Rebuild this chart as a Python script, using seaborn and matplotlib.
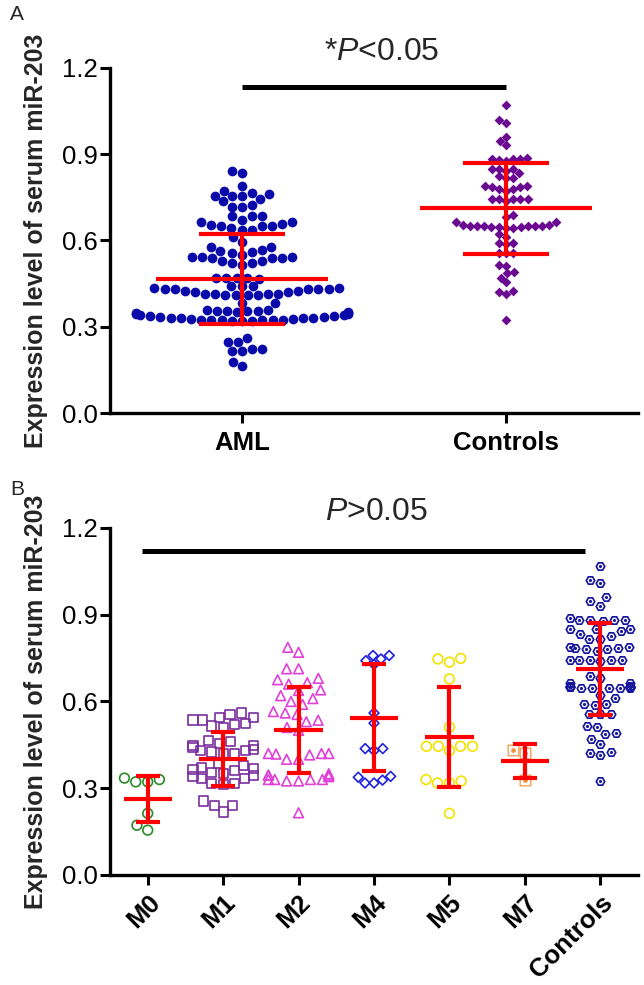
import warnings
import numpy as np
import pandas as pd
import matplotlib
matplotlib.use("Agg")
import matplotlib.pyplot as plt
from matplotlib.path import Path
import seaborn as sns

warnings.filterwarnings("ignore")

# ---- panel A data ----
groups_a = ["AML", "Controls"]
aml = [0.84, 0.835, 0.79,
       0.773, 0.762, 0.754, 0.745, 0.724, 0.718, 0.718, 0.736, 0.753, 0.753, 0.765,
       0.684, 0.684, 0.664, 0.659, 0.649, 0.649, 0.636, 0.636, 0.645, 0.649, 0.655, 0.664, 0.672, 0.684,
       0.612, 0.595, 0.578, 0.578,
       0.563, 0.555, 0.543, 0.540, 0.538, 0.530, 0.521, 0.515, 0.521, 0.530, 0.538, 0.543, 0.543, 0.550, 0.560, 0.567,
       0.47, 0.468, 0.465, 0.47, 0.47,
       0.44, 0.435, 0.43, 0.43, 0.425, 0.42, 0.415, 0.415, 0.41, 0.41, 0.41, 0.41, 0.415, 0.415, 0.42, 0.425,
       0.43, 0.43, 0.435, 0.44, 0.43, 0.44,
       0.383, 0.383, 0.355, 0.355,
       0.358, 0.355, 0.350, 0.347, 0.343, 0.340, 0.337, 0.334, 0.331, 0.329, 0.327, 0.325, 0.323, 0.322, 0.321,
       0.320, 0.321, 0.322, 0.323, 0.325, 0.327, 0.329, 0.331, 0.334, 0.337, 0.340, 0.343, 0.347, 0.350, 0.355, 0.358,
       0.247, 0.224, 0.216, 0.216, 0.224, 0.247, 0.262,
       0.162, 0.176]
controls = [1.07, 1.01, 1.02, 0.946, 0.961, 0.931,
            0.888, 0.883, 0.883, 0.877, 0.88, 0.883, 0.85, 0.85, 0.833, 0.817, 0.817, 0.825, 0.842, 0.85,
            0.79, 0.785, 0.78, 0.773, 0.745, 0.745, 0.745, 0.745, 0.739, 0.745, 0.78, 0.785, 0.79,
            0.687, 0.681,
            0.664, 0.655, 0.649, 0.649, 0.649, 0.647, 0.645, 0.645, 0.647, 0.647, 0.649, 0.649, 0.649, 0.655, 0.664,
            0.622, 0.612,
            0.592, 0.587, 0.590,
            0.555, 0.555, 0.555,
            0.515, 0.511, 0.492, 0.486, 0.471,
            0.454, 0.421, 0.415, 0.425,
            0.325]
mean_a = [0.466, 0.712]
sd_a = [0.156, 0.159]

# ---- panel B data ----
groups_b = ["M0", "M1", "M2", "M4", "M5", "M7", "Controls"]
m0 = [0.33, 0.322, 0.322, 0.335, 0.213, 0.172, 0.155]
m1 = [0.56, 0.556, 0.546, 0.546, 0.536, 0.536, 0.523, 0.52, 0.511, 0.515,
      0.466, 0.462, 0.455, 0.448, 0.448, 0.44, 0.435, 0.431, 0.431, 0.425, 0.42, 0.42,
      0.385, 0.38, 0.372, 0.368, 0.365, 0.36, 0.355, 0.351, 0.345, 0.34, 0.333, 0.333,
      0.316, 0.316, 0.312,
      0.241, 0.218, 0.241, 0.256]
m2 = [0.787, 0.77, 0.713, 0.713, 0.68, 0.675, 0.665, 0.66, 0.64, 0.638, 0.62, 0.61, 0.60, 0.59,
      0.565, 0.56, 0.555, 0.535, 0.53, 0.51, 0.50, 0.42, 0.42, 0.415, 0.42, 0.418, 0.40, 0.40,
      0.35, 0.345, 0.345, 0.34, 0.345, 0.33, 0.33, 0.325, 0.33, 0.325, 0.33, 0.215]
m4 = [0.759, 0.747, 0.728, 0.741, 0.759, 0.56, 0.525, 0.437, 0.43, 0.437,
      0.341, 0.328, 0.318, 0.318, 0.338]
m5 = [0.747, 0.736, 0.749, 0.678, 0.511, 0.445, 0.445, 0.43, 0.445, 0.445,
      0.33, 0.318, 0.318, 0.325, 0.213]
m7 = [0.431, 0.422, 0.328]
values_b = [m0, m1, m2, m4, m5, m7, controls]
mean_b = [0.262, 0.402, 0.500, 0.544, 0.477, 0.394, 0.712]
sd_b = [0.080, 0.093, 0.149, 0.184, 0.174, 0.058, 0.159]


def ring_marker(n, start, r_in=0.66, dot=0.3):
    # outlined polygon with a filled dot in the middle
    ang = np.deg2rad(start + np.arange(n + 1) * 360.0 / n)
    outer = np.column_stack([np.cos(ang), np.sin(ang)])
    inner = outer[::-1] * r_in
    return Path.make_compound_path(Path(outer, closed=True),
                                   Path(inner, closed=True),
                                   Path.circle((0, 0), dot))


hex_dot = ring_marker(6, 0, 0.62, 0.3)
sq_dot = ring_marker(4, 45, 0.80, 0.28)

sns.set_style("ticks")
plt.rcParams["font.family"] = ["Liberation Sans", "DejaVu Sans"]
plt.rcParams["mathtext.fontset"] = "custom"
plt.rcParams["mathtext.rm"] = "Liberation Sans"
plt.rcParams["mathtext.it"] = "Liberation Sans:italic"

fig = plt.figure(figsize=(6.44, 9.85), dpi=100)
ax_a = fig.add_axes([0.1708, 0.5807, 0.8199, 0.3503])
ax_b = fig.add_axes([0.1708, 0.1117, 0.8199, 0.3523])

# ---- panel A ----
df_a = pd.DataFrame({"group": ["AML"] * len(aml) + ["Controls"] * len(controls),
                     "value": aml + controls})
sns.swarmplot(data=df_a[df_a.group == "AML"], x="group", y="value", order=groups_a,
              color="#0A0AAA", size=7.0, linewidth=0, ax=ax_a)
sns.swarmplot(data=df_a[df_a.group == "Controls"], x="group", y="value", order=groups_a,
              color="#6A0A90", marker="D", size=5.0, linewidth=0, ax=ax_a)

xa = np.arange(len(groups_a))
ax_a.errorbar(xa, mean_a, yerr=sd_a, fmt="none", ecolor="#FF0000", elinewidth=3,
              capsize=31, capthick=3, zorder=6)
ax_a.hlines(mean_a, xa - 0.325, xa + 0.325, color="#FF0000", lw=3, zorder=6)
ax_a.plot([0, 1], [1.134, 1.134], color="black", lw=3.6, clip_on=False, solid_capstyle="butt")
ax_a.text(0.53, 1.255, r"*$\mathit{P}$<0.05", fontsize=23, ha="center", va="center", clip_on=False)
ax_a.set_xlim(-0.5, 1.5)

# ---- panel B ----
styles = [
    dict(marker="o", color="#2A8A2A", size=7.0, open=True),
    dict(marker="s", color="#7A2E9E", size=6.6, open=True),
    dict(marker="^", color="#E040D8", size=7.0, open=True),
    dict(marker="D", color="#2222DD", size=5.0, open=True),
    dict(marker="o", color="#F2E200", size=7.0, open=True),
    dict(marker=sq_dot, color="#F2913C", size=8.5, open=False),
    dict(marker=hex_dot, color="#16169E", size=7.5, open=False),
]
for g, vals, st in zip(groups_b, values_b, styles):
    sub = pd.DataFrame({"group": [g] * len(vals), "value": vals})
    if st["open"]:
        sns.swarmplot(data=sub, x="group", y="value", order=groups_b, marker=st["marker"],
                      color=st["color"], facecolor="none", edgecolor=st["color"],
                      linewidth=1.2, size=st["size"], ax=ax_b)
    else:
        sns.swarmplot(data=sub, x="group", y="value", order=groups_b, marker=st["marker"],
                      color=st["color"], linewidth=0, size=st["size"], ax=ax_b)

xb = np.arange(len(groups_b))
ax_b.errorbar(xb, mean_b, yerr=sd_b, fmt="none", ecolor="#FF0000", elinewidth=3,
              capsize=8.3, capthick=3, zorder=6)
ax_b.hlines(mean_b, xb - 0.32, xb + 0.32, color="#FF0000", lw=3, zorder=6)
ax_b.plot([-0.07, 5.8], [1.12, 1.12], color="black", lw=3.6, clip_on=False, solid_capstyle="butt")
ax_b.text(3.03, 1.255, r"$\mathit{P}$>0.05", fontsize=23, ha="center", va="center", clip_on=False)
ax_b.set_xlim(-0.5, 6.5)

# ---- shared axis styling ----
for ax in (ax_a, ax_b):
    ax.set_ylim(0, 1.2)
    ax.set_yticks([0, 0.3, 0.6, 0.9, 1.2])
    ax.set_yticklabels(["0.0", "0.3", "0.6", "0.9", "1.2"])
    ax.set_xlabel("")
    ax.set_ylabel("Expression level of serum miR-203", fontsize=18, fontweight="bold")
    ax.yaxis.set_label_coords(-0.140, 0.5)
    ax.yaxis.label.set_va("center")
    ax.tick_params(axis="both", direction="out", length=7, width=2.2, colors="black", labelsize=18.5)
    ax.tick_params(axis="y", pad=2)
    sns.despine(ax=ax)
    for s in ("left", "bottom"):
        ax.spines[s].set_linewidth(2.4)
        ax.spines[s].set_color("black")
    for lab in ax.get_xticklabels():
        lab.set_fontweight("bold")

ax_a.tick_params(axis="x", pad=6)
ax_b.tick_params(axis="x", pad=4)
for lab in ax_b.get_xticklabels():
    lab.set_rotation(45)
    lab.set_ha("right")
    lab.set_va("top")
    lab.set_rotation_mode("anchor")

fig.text(10 / 644, 1 - 15 / 985, "A", fontsize=15, ha="left", va="center")
fig.text(10 / 644, 1 - 490 / 985, "B", fontsize=15, ha="left", va="center")

fig.savefig("out.png", dpi=100)
